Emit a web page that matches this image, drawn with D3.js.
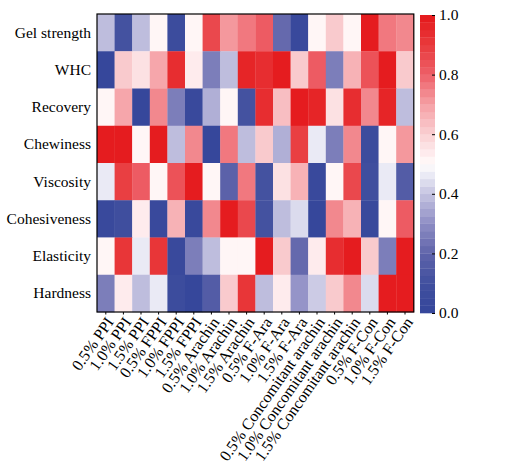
<!DOCTYPE html>
<html>
<head>
<meta charset="utf-8">
<script src="https://cdn.jsdelivr.net/npm/d3@7"></script>
<style>
  body { margin: 0; background: #fff; }
  svg text { font-family: "Liberation Serif", "Times New Roman", serif; fill: #000; }
</style>
</head>
<body>
<div class="viz"></div>
<script>
const samples = ["0.5% PPI", "1.0% PPI", "1.5% PPI", "0.5% FPPI", "1.0% FPPI", "1.5% FPPI",
  "0.5% Arachin", "1.0% Arachin", "1.5% Arachin", "0.5% F-Ara", "1.0% F-Ara", "1.5% F-Ara",
  "0.5% Concomitant arachin", "1.0% Concomitant arachin", "1.5% Concomitant arachin",
  "0.5% F-Con", "1.0% F-Con", "1.5% F-Con"]
const traits = ["Gel strength", "WHC", "Recovery", "Chewiness", "Viscosity", "Cohesiveness", "Elasticity", "Hardness"]

// normalised values, one array per trait (same order as samples)
const gelStrength  = [0.38, 0.10, 0.38, 0.50, 0.05, 0.50, 0.85, 0.70, 0.77, 0.80, 0.20, 0.03, 0.50, 0.60, 0.50, 0.98, 0.77, 0.73]
const whc          = [0.02, 0.60, 0.55, 0.68, 0.93, 0.53, 0.25, 0.38, 0.95, 0.93, 0.98, 0.60, 0.82, 0.25, 0.65, 0.83, 0.98, 0.60]
const recovery     = [0.50, 0.68, 0.02, 0.73, 0.25, 0.03, 0.35, 0.50, 0.10, 0.93, 0.63, 0.98, 0.95, 0.57, 0.93, 0.73, 0.97, 0.38]
const chewiness    = [0.98, 0.98, 0.50, 0.99, 0.38, 0.73, 0.02, 0.77, 0.38, 0.60, 0.35, 0.88, 0.47, 0.25, 0.73, 0.05, 0.52, 0.70]
const viscosity    = [0.45, 0.88, 0.80, 0.50, 0.84, 0.98, 0.50, 0.18, 0.77, 0.10, 0.55, 0.65, 0.03, 0.50, 0.85, 0.08, 0.45, 0.15]
const cohesiveness = [0.03, 0.08, 0.53, 0.04, 0.65, 0.03, 0.73, 0.98, 0.85, 0.11, 0.38, 0.43, 0.02, 0.73, 0.65, 0.03, 0.50, 0.80]
const elasticity   = [0.51, 0.92, 0.46, 0.92, 0.04, 0.25, 0.38, 0.51, 0.51, 0.98, 0.60, 0.22, 0.53, 0.93, 0.98, 0.60, 0.25, 0.99]
const hardness     = [0.25, 0.54, 0.38, 0.46, 0.05, 0.02, 0.15, 0.60, 0.92, 0.38, 0.53, 0.30, 0.42, 0.60, 0.73, 0.43, 0.98, 0.98]
const rows = [gelStrength, whc, recovery, chewiness, viscosity, cohesiveness, elasticity, hardness]

const cbTicks = [0, 0.2, 0.4, 0.6, 0.8, 1.0]

const w = 514, h = 474
const mLeft = 97, mRight = 413.8, mTop = 14, mBottom = 312
const nBins = 40

const svg = d3.select(".viz").append("svg")
  .attr("width", w).attr("height", h)

const x = d3.scaleBand().domain(samples).range([mLeft, mRight])
const y = d3.scaleBand().domain(traits).range([mTop, mBottom])

const smooth = d3.scaleLinear()
  .domain([0, 0.1, 0.2, 0.3, 0.4, 0.47, 0.5, 0.55, 0.6, 0.7, 0.8, 0.9, 1.0])
  .range(["#35469a", "#404f9f", "#5f64aa", "#8e8dc4", "#c5c4e1", "#eeeef7", "#fffbfb",
          "#fde6e8", "#fad0d3", "#f5a0a5", "#ee6068", "#e83a3c", "#e4181b"])
  .interpolate(d3.interpolateRgb)
  .clamp(true)
const binColors = d3.range(nBins).map(k => smooth((k + 0.5) / nBins))
const color = d3.scaleQuantize().domain([0, 1]).range(binColors)

const cells = []
rows.forEach((r, i) => r.forEach((v, j) => cells.push({ t: traits[i], s: samples[j], v: v })))

svg.append("g").selectAll("rect")
  .data(cells)
  .enter().append("rect")
  .attr("x", d => x(d.s))
  .attr("y", d => y(d.t))
  .attr("width", x.bandwidth() + 0.3)
  .attr("height", y.bandwidth() + 0.3)
  .attr("fill", d => color(d.v))

svg.append("rect")
  .attr("x", mLeft).attr("y", mTop)
  .attr("width", mRight - mLeft).attr("height", mBottom - mTop)
  .attr("fill", "none").attr("stroke", "#000").attr("stroke-width", 1.2)

// row labels
const yAxis = svg.append("g")
  .attr("transform", `translate(${mLeft},0)`)
  .call(d3.axisLeft(y).tickSize(0).tickPadding(6))
yAxis.select(".domain").remove()
yAxis.selectAll("text").style("font-size", "15.5px")
  .style("font-family", "'Liberation Serif', serif")

// column labels
const xAxis = svg.append("g")
  .attr("transform", `translate(0,${mBottom})`)
  .call(d3.axisBottom(x).tickSize(2.5))
xAxis.select(".domain").remove()
xAxis.selectAll("text")
  .style("font-size", "16px")
  .style("font-family", "'Liberation Serif', serif")
  .attr("text-anchor", "end")
  .attr("y", 0).attr("dy", "0.35em")
  .attr("transform", "translate(4,7) rotate(-55)")

// colour bar
const cbX = 420, cbW = 15
const cb = d3.scaleLinear().domain([0, 1]).range([mBottom + 1, mTop + 1])
svg.append("g").selectAll("rect")
  .data(binColors)
  .enter().append("rect")
  .attr("x", cbX)
  .attr("y", (d, k) => cb((k + 1) / nBins))
  .attr("width", cbW)
  .attr("height", (d, k) => cb(k / nBins) - cb((k + 1) / nBins) + 0.3)
  .attr("fill", d => d)

const cbAxis = svg.append("g")
  .attr("transform", `translate(${cbX + cbW},0)`)
  .call(d3.axisRight(cb).tickValues(cbTicks).tickFormat(d3.format(".1f")).tickSize(2).tickPadding(2))
cbAxis.select(".domain").remove()
cbAxis.selectAll(".tick line").attr("x1", -3).attr("x2", 0)
cbAxis.selectAll("text").style("font-size", "15.5px")
  .style("font-family", "'Liberation Serif', serif")
</script>
</body>
</html>
